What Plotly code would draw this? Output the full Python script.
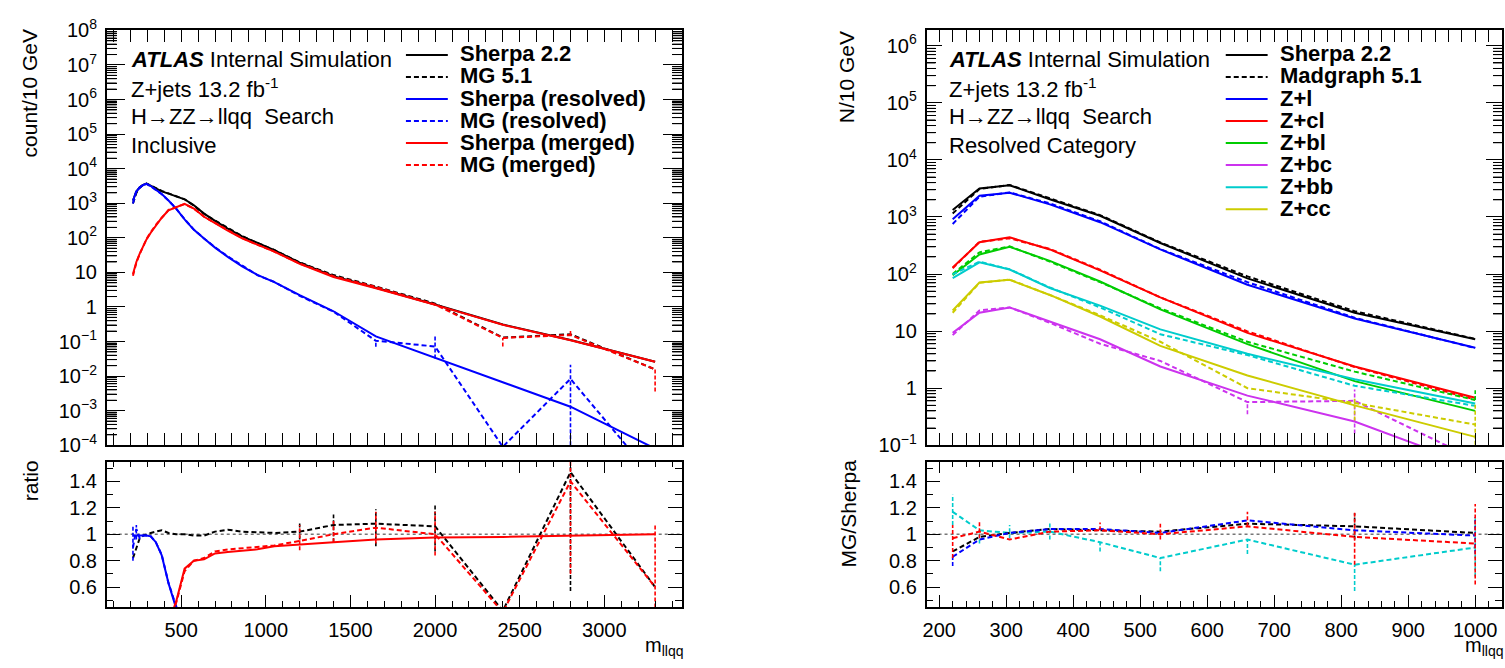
import math
import plotly.graph_objects as go

W, H = 1505, 668
FONT = "Liberation Sans, Arial, Helvetica, sans-serif"

# ---------------- left panel (inclusive) ----------------
mass_incl = [215, 235, 255, 275, 295, 320, 350, 385, 425, 470, 520, 575, 635, 700, 775, 860, 950, 1050, 1200, 1400, 1650, 2000, 2400, 2800, 3300]
sherpa_total = [1200, 2200, 2900, 3400, 3700, 3200, 2600, 2200, 1900, 1600, 1300, 870, 500, 310, 185, 110, 70, 44, 19, 7.8, 3.6, 1.18, 0.31, 0.11, 0.026]
mg_total = [985, 1980, 2810, 3370, 3700, 3230, 2650, 2270, 1920, 1600, 1300, 860, 495, 316, 191, 112, 71, 44.4, 19.4, 8.35, 3.89, 1.25, 0.13, 0.162, 0.0156]
sherpa_resolved = [1190, 2180, 2880, 3380, 3660, 3150, 2450, 1850, 1200, 700, 340, 170, 95, 52, 28, 15, 8.5, 5.2, 2.2, 0.75, 0.14, 0.034, 0.0068, 0.0013, 0.00008]
mg_resolved = [980, 2270, 2820, 3350, 3620, 3100, 2420, 1830, 1190, 700, 345, 172, 96, 53, 29, 15.5, 8.3, 5.3, 2.1, 0.73, 0.105, 0.072, 0.00009, 0.0083, 0.00001]
sherpa_merged = [9, 20, 35, 55, 90, 140, 230, 380, 620, 780, 960, 700, 405, 265, 160, 96, 62, 40, 17.6, 7.33, 3.46, 1.15, 0.304, 0.109, 0.026]
mg_merged = [8, 19, 34, 55, 92, 145, 235, 375, 640, 770, 940, 700, 410, 270, 164, 98, 63, 40, 18, 7.8, 3.78, 1.18, 0.127, 0.154, 0.0156]
mg_resolved_err_up = [0]*20 + [0, 0.08, 0, 0.013, 0]
mg_resolved_err_dn = [0]*20 + [0.035, 0.04, 0, 0.0082, 0]
mg_merged_err_up = [0]*20 + [0, 0, 0, 0.075, 0]
mg_merged_err_dn = [0]*20 + [0, 0, 0.055, 0, 0.012]

ratio_mg_total = [0.82, 0.9, 0.97, 0.99, 1.0, 1.01, 1.02, 1.03, 1.01, 1.0, 1.0, 0.99, 0.99, 1.02, 1.035, 1.02, 1.015, 1.01, 1.02, 1.07, 1.08, 1.06, 0.42, 1.47, 0.60]
ratio_sh_resolved = [0.99, 0.99, 0.99, 0.994, 0.99, 0.984, 0.94, 0.84, 0.63, 0.44, 0.26, 0.195, 0.19, 0.168, 0.151, 0.136, 0.121, 0.118, 0.116, 0.096, 0.039, 0.029, 0.022, 0.012, 0.003]
ratio_mg_resolved = [0.9, 1.04, 0.97, 0.99, 0.99, 0.985, 0.94, 0.845, 0.63, 0.44, 0.265, 0.2, 0.19, 0.17, 0.15, 0.14, 0.12, 0.12, 0.11, 0.094, 0.03, 0.06, 0.0003, 0.075, 0.0006]
ratio_sh_merged = [0.0075, 0.009, 0.012, 0.016, 0.024, 0.044, 0.088, 0.17, 0.33, 0.49, 0.74, 0.80, 0.81, 0.855, 0.865, 0.873, 0.886, 0.91, 0.925, 0.94, 0.96, 0.975, 0.98, 0.99, 1.0]
ratio_mg_merged = [0.007, 0.009, 0.012, 0.016, 0.025, 0.045, 0.09, 0.17, 0.34, 0.48, 0.72, 0.80, 0.82, 0.87, 0.885, 0.895, 0.905, 0.915, 0.95, 1.0, 1.05, 1.0, 0.41, 1.40, 0.60]
ratio_mg_total_err_up = [0]*18 + [0.07, 0.08, 0.11, 0.16, 0, 0.05, 0]
ratio_mg_total_err_dn = [0]*18 + [0.06, 0.13, 0.17, 0.19, 0, 0.9, 0]
ratio_mg_merged_err_up = [0]*18 + [0.12, 0.1, 0.12, 0.17, 0, 0.2, 0.47]
ratio_mg_merged_err_dn = [0]*18 + [0.07, 0.06, 0.12, 0.16, 0, 0.7, 0.2]
ratio_mg_resolved_err_up = [0.17, 0.03] + [0]*23
ratio_mg_resolved_err_dn = [0.1, 0.08] + [0]*23

# ---------------- right panel (resolved category) ----------------
mass_res = [220, 260, 305, 365, 440, 530, 660, 820, 1000]
sh_tot = [1320, 3150, 3600, 2040, 1050, 350, 84, 21, 7.2]
mg_tot = [1150, 3090, 3640, 2120, 1080, 357, 91, 22.3, 7.3]
sh_l = [910, 2350, 2660, 1660, 810, 270, 65, 16.6, 5.1]
mg_l = [755, 2260, 2690, 1730, 840, 273, 72, 17.1, 5.05]
sh_cl = [130, 360, 440, 270, 116, 39, 9.3, 2.4, 0.68]
mg_cl = [126, 367, 422, 275, 119, 39, 9.9, 2.35, 0.63]
sh_bl = [95, 220, 300, 170, 74, 24, 5.9, 1.33, 0.40]
mg_bl = [100, 240, 305, 165, 72, 25, 6.5, 1.95, 0.62]
sh_bc = [9.3, 21, 26, 14.5, 7.2, 2.4, 0.74, 0.26, 0.043]
mg_bc = [8.5, 23, 26, 14.0, 6.0, 3.0, 0.57, 0.6, 0.056]
sh_bb = [85, 160, 120, 57, 28, 10.7, 4.0, 1.43, 0.54]
mg_bb = [99, 165, 121, 58, 26, 8.8, 3.8, 1.1, 0.49]
sh_cc = [23, 71, 79, 43, 18, 5.5, 1.67, 0.5, 0.14]
mg_cc = [21, 70, 80, 43, 19, 6.5, 1.0, 0.55, 0.23]
mg_bc_err_up = [0, 0, 0, 0, 0, 0, 0, 0.35, 0]
mg_bc_err_dn = [0, 0, 0, 0, 0, 0, 0.22, 0.44, 0]
mg_cc_err_up = [0, 0, 0, 0, 0, 0, 0, 0.1, 0.3]
mg_cc_err_dn = [0, 0, 0, 0, 0, 0, 0, 0.28, 0.15]
mg_bl_err_up = [0, 0, 0, 0, 0, 0, 0, 0, 0.3]

ratio_tot = [0.87, 0.98, 1.01, 1.04, 1.03, 1.02, 1.08, 1.06, 1.01]
ratio_l = [0.83, 0.96, 1.01, 1.04, 1.04, 1.01, 1.105, 1.03, 0.99]
ratio_cl = [0.97, 1.02, 0.96, 1.02, 1.03, 1.0, 1.06, 0.98, 0.93]
ratio_bb = [1.17, 1.03, 1.01, 1.02, 0.94, 0.82, 0.96, 0.77, 0.90]
ratio_tot_err = [0, 0, 0, 0, 0, 0, 0, 0.1, 0]
ratio_l_err_up = [0, 0, 0, 0, 0, 0, 0, 0, 0.14]
ratio_l_err_dn = [0.07, 0, 0, 0, 0, 0, 0, 0, 0.14]
ratio_cl_err_up = [0.1, 0.08, 0, 0, 0.06, 0.08, 0.11, 0.19, 0.3]
ratio_cl_err_dn = [0.15, 0.05, 0, 0, 0, 0.04, 0, 0.21, 0.31]
ratio_bb_err_up = [0.13, 0, 0.06, 0.07, 0, 0, 0, 0, 0.22]
ratio_bb_err_dn = [0.1, 0.1, 0.04, 0.06, 0.07, 0.1, 0.11, 0.2, 0.22]

legend_left = [("Sherpa 2.2", "black", "solid"), ("MG 5.1", "black", "dash"),
               ("Sherpa (resolved)", "blue", "solid"), ("MG (resolved)", "blue", "dash"),
               ("Sherpa (merged)", "red", "solid"), ("MG (merged)", "red", "dash")]
legend_right = [("Sherpa 2.2", "black", "solid"), ("Madgraph 5.1", "black", "dash"),
                ("Z+l", "#0000ff", "solid"), ("Z+cl", "#ff0000", "solid"), ("Z+bl", "#00cc00", "solid"),
                ("Z+bc", "#cc33ee", "solid"), ("Z+bb", "#00cccc", "solid"), ("Z+cc", "#cccc00", "solid")]

DASH = "5px,3px"
BLUE, RED, GREEN, MAG, CYAN, YEL = "#0000ff", "#ff0000", "#00cc00", "#cc33ee", "#00cccc", "#cccc00"

fig = go.Figure()


def line(x, y, color, dashed, xa, ya, eu=None, ed=None):
    fig.add_trace(go.Scatter(x=x, y=y, mode="lines", xaxis=xa, yaxis=ya, showlegend=False, hoverinfo="skip",
                             line=dict(color=color, width=2, dash=DASH if dashed else "solid")))
    if eu is None and ed is None:
        return
    eu = eu if eu is not None else [0] * len(x)
    ed = ed if ed is not None else eu
    sx, sy = [], []
    for xi, yi, u, d in zip(x, y, eu, ed):
        if u == 0 and d == 0:
            continue
        sx += [xi, xi, None]
        sy += [yi - d, yi + u, None]
    # vertical (dashed) error bars, ROOT style
    fig.add_trace(go.Scatter(x=sx, y=sy, mode="lines", xaxis=xa, yaxis=ya, showlegend=False,
                             hoverinfo="skip", connectgaps=False,
                             line=dict(color=color, width=1.6, dash="4px,2px")))


# left top
line(mass_incl, sherpa_total, "black", False, "x", "y")
line(mass_incl, mg_total, "black", True, "x", "y")
line(mass_incl, sherpa_resolved, BLUE, False, "x", "y")
line(mass_incl, mg_resolved, BLUE, True, "x", "y", mg_resolved_err_up, mg_resolved_err_dn)
line(mass_incl, sherpa_merged, RED, False, "x", "y")
line(mass_incl, mg_merged, RED, True, "x", "y", mg_merged_err_up, mg_merged_err_dn)
# left ratio
line(mass_incl, ratio_mg_total, "black", True, "x2", "y2", ratio_mg_total_err_up, ratio_mg_total_err_dn)
line(mass_incl, ratio_sh_resolved, BLUE, False, "x2", "y2")
line(mass_incl, ratio_mg_resolved, BLUE, True, "x2", "y2", ratio_mg_resolved_err_up, ratio_mg_resolved_err_dn)
line(mass_incl, ratio_sh_merged, RED, False, "x2", "y2")
line(mass_incl, ratio_mg_merged, RED, True, "x2", "y2", ratio_mg_merged_err_up, ratio_mg_merged_err_dn)

# right top
line(mass_res, sh_tot, "black", False, "x3", "y3")
line(mass_res, mg_tot, "black", True, "x3", "y3")
line(mass_res, sh_l, BLUE, False, "x3", "y3")
line(mass_res, mg_l, BLUE, True, "x3", "y3")
line(mass_res, sh_cl, RED, False, "x3", "y3")
line(mass_res, mg_cl, RED, True, "x3", "y3")
line(mass_res, sh_bl, GREEN, False, "x3", "y3")
line(mass_res, mg_bl, GREEN, True, "x3", "y3", mg_bl_err_up, [0]*9)
line(mass_res, sh_bc, MAG, False, "x3", "y3")
line(mass_res, mg_bc, MAG, True, "x3", "y3", mg_bc_err_up, mg_bc_err_dn)
line(mass_res, sh_bb, CYAN, False, "x3", "y3")
line(mass_res, mg_bb, CYAN, True, "x3", "y3")
line(mass_res, sh_cc, YEL, False, "x3", "y3")
line(mass_res, mg_cc, YEL, True, "x3", "y3", mg_cc_err_up, mg_cc_err_dn)
# right ratio
line(mass_res, ratio_bb, CYAN, True, "x4", "y4", ratio_bb_err_up, ratio_bb_err_dn)
line(mass_res, ratio_tot, "black", True, "x4", "y4", ratio_tot_err, ratio_tot_err)
line(mass_res, ratio_l, BLUE, True, "x4", "y4", ratio_l_err_up, ratio_l_err_dn)
line(mass_res, ratio_cl, RED, True, "x4", "y4", ratio_cl_err_up, ratio_cl_err_dn)

# invisible anchors so the overlay (log10-unit) axes exist
fig.add_trace(go.Scatter(x=[mass_incl[0]], y=[math.log10(sherpa_total[0])], xaxis="x", yaxis="y5",
                         mode="markers", marker=dict(opacity=0), showlegend=False, hoverinfo="skip"))
fig.add_trace(go.Scatter(x=[mass_res[0]], y=[math.log10(sh_tot[0])], xaxis="x3", yaxis="y6",
                         mode="markers", marker=dict(opacity=0), showlegend=False, hoverinfo="skip"))


def px(v):
    return v / W


def py(v):
    return 1 - v / H


LX = [px(103), px(680)]
RX = [px(925), px(1502)]
TOPY = [py(448), py(17)]
RATY = [py(616), py(465)]
PANEL_W = 577.0

tickfont = dict(family=FONT, size=20, color="black")


def sup(e):
    if e == 0:
        return "1"
    if e == 1:
        return "10"
    return "10<sup>%s</sup>" % (str(e).replace("-", "\u2212"))


def logaxis_major(lo, hi, rng, dom, anchor, tlen):
    decs = list(range(lo, hi + 1))
    return dict(type="log", range=rng, domain=dom, anchor=anchor, tickmode="array",
                tickvals=[10.0 ** d for d in decs], ticktext=[sup(d) for d in decs],
                ticks="inside", ticklen=tlen, tickwidth=1, tickcolor="black",
                showline=True, linecolor="black", linewidth=1.5, mirror="allticks",
                showgrid=False, zeroline=False, tickfont=tickfont, ticklabelstandoff=4)


def minor_vals(lo, hi, rng):
    vals = [d + math.log10(k) for d in range(lo - 1, hi + 1) for k in range(2, 10)]
    return [v for v in vals if rng[0] <= v <= rng[1]]


def logaxis_minor_overlay(lo, hi, rng, over, anchor, tlen):
    # linear axis in log10 units carrying the 2..9 minor ticks of each decade
    return dict(type="linear", range=rng, overlaying=over, anchor=anchor, tickmode="array",
                tickvals=minor_vals(lo, hi, rng), ticks="inside", ticklen=tlen, tickwidth=1,
                tickcolor="black", showline=False, mirror="allticks", showgrid=False,
                zeroline=False, showticklabels=False)


def linaxis(rng, dom, anchor, tickvals, minor_dtick, labels, major_len=12, minor_len=6, ticktext=None, standoff=4):
    d = dict(range=rng, domain=dom, anchor=anchor, tickmode="array", tickvals=tickvals,
             ticks="inside", ticklen=major_len, tickwidth=1, tickcolor="black",
             minor=dict(dtick=minor_dtick, ticks="inside", ticklen=minor_len, tickwidth=1, tickcolor="black"),
             showline=True, linecolor="black", linewidth=1.5, mirror="allticks",
             showgrid=False, zeroline=False, showticklabels=labels, tickfont=tickfont,
             ticklabelstandoff=standoff)
    if ticktext is not None:
        d["ticktext"] = ticktext
    return d


left_ticks = [500, 1000, 1500, 2000, 2500, 3000]
right_ticks = [200, 300, 400, 500, 600, 700, 800, 900, 1000]
ratio_vals = [0.6, 0.8, 1.0, 1.2, 1.4]
ratio_text = ["0.6", "0.8", "1", "1.2", "1.4"]
LRANGE = [-4, 8]
RRANGE = [-1, 6.27]

fig.update_layout(
    width=W, height=H, margin=dict(l=0, r=0, t=0, b=0), autosize=False,
    paper_bgcolor="white", plot_bgcolor="white", showlegend=False,
    font=dict(family=FONT, color="black"),
    xaxis=linaxis([60, 3460], LX, "y", left_ticks, 100, False),
    yaxis=logaxis_major(-4, 8, LRANGE, TOPY, "x", 19),
    yaxis5=logaxis_minor_overlay(-4, 8, LRANGE, "y", "x", 10),
    xaxis2=linaxis([60, 3460], LX, "y2", left_ticks, 100, True),
    yaxis2=linaxis([0.45, 1.55], RATY, "x2", ratio_vals, 0.1, True, 14, 7, ratio_text, 4),
    xaxis3=linaxis([181, 1040], RX, "y3", right_ticks, 20, False),
    yaxis3=logaxis_major(-1, 6, RRANGE, TOPY, "x3", 16),
    yaxis6=logaxis_minor_overlay(-1, 6, RRANGE, "y3", "x3", 9),
    xaxis4=linaxis([181, 1040], RX, "y4", right_ticks, 20, True),
    yaxis4=linaxis([0.45, 1.55], RATY, "x4", ratio_vals, 0.1, True, 14, 7, ratio_text, 4),
)

# minor log ticks drawn explicitly too (both sides of each top frame)
for xa, ya, lo, hi, rng, tl in (("x", "y5", -4, 8, LRANGE, 10), ("x3", "y6", -1, 6, RRANGE, 9)):
    f = tl / PANEL_W
    for v in minor_vals(lo, hi, rng):
        for a, b in ((0, f), (1 - f, 1)):
            fig.add_shape(type="line", xref=xa + " domain", yref=ya, x0=a, x1=b, y0=v, y1=v,
                          line=dict(color="black", width=1))

# dotted unity lines in ratio panels
for xa, ya in (("x2", "y2"), ("x4", "y4")):
    fig.add_shape(type="line", xref=xa + " domain", yref=ya, x0=0, x1=1, y0=1, y1=1,
                  line=dict(color="#777777", width=1.5, dash="dot"), layer="below")

ann = []
txtfont = dict(family=FONT, size=22, color="black")
info_left = ["<b><i>ATLAS</i></b> Internal Simulation", "Z+jets 13.2 fb<sup>-1</sup>",
             "H\u2192ZZ\u2192llqq\u00a0 Search", "Inclusive"]
info_right = ["<b><i>ATLAS</i></b> Internal Simulation", "Z+jets 13.2 fb<sup>-1</sup>",
              "H\u2192ZZ\u2192llqq\u00a0 Search", "Resolved Category"]
rows_y = [47, 77, 107, 137]
for x0, lines_ in ((125, info_left), (946, info_right)):
    for yy, t in zip(rows_y, lines_):
        ann.append(dict(text=t, x=px(x0), y=py(yy), xref="paper", yref="paper", xanchor="left",
                        yanchor="middle", showarrow=False, font=txtfont))

# legends
legfont = dict(family=FONT, size=22, color="black")
for (lx0, lx1, tx, entries) in ((403, 445, 455, legend_left), (1225, 1267, 1277, legend_right)):
    for i, (lab, col, ds) in enumerate(entries):
        yy = 41.5 + i * 22.9
        fig.add_shape(type="line", xref="paper", yref="paper", x0=px(lx0), x1=px(lx1), y0=py(yy + 1), y1=py(yy + 1),
                      line=dict(color=col, width=2, dash=DASH if ds == "dash" else "solid"))
        ann.append(dict(text="<b>%s</b>" % lab, x=px(tx), y=py(yy), xref="paper", yref="paper",
                        xanchor="left", yanchor="middle", showarrow=False, font=legfont))

# axis titles
titfont = dict(family=FONT, size=21, color="black")
ann.append(dict(text="count/10 GeV", x=px(26), y=py(14), xref="paper", yref="paper", textangle=-90,
                xanchor="center", yanchor="top", showarrow=False, font=titfont))
ann.append(dict(text="ratio", x=px(26), y=py(461), xref="paper", yref="paper", textangle=-90,
                xanchor="center", yanchor="top", showarrow=False, font=titfont))
ann.append(dict(text="N/10 GeV", x=px(845), y=py(16), xref="paper", yref="paper", textangle=-90,
                xanchor="center", yanchor="top", showarrow=False, font=titfont))
ann.append(dict(text="MG/Sherpa", x=px(847), y=py(461), xref="paper", yref="paper", textangle=-90,
                xanchor="center", yanchor="top", showarrow=False, font=titfont))
mfont = dict(family=FONT, size=20, color="black")
ann.append(dict(text="m<sub>llqq</sub>", x=px(682), y=py(671), xref="paper", yref="paper",
                xanchor="right", yanchor="bottom", showarrow=False, font=mfont, borderpad=0))
ann.append(dict(text="m<sub>llqq</sub>", x=px(1504), y=py(671), xref="paper", yref="paper",
                xanchor="right", yanchor="bottom", showarrow=False, font=mfont, borderpad=0))

fig.update_layout(annotations=ann)
fig.write_html("out.html")
